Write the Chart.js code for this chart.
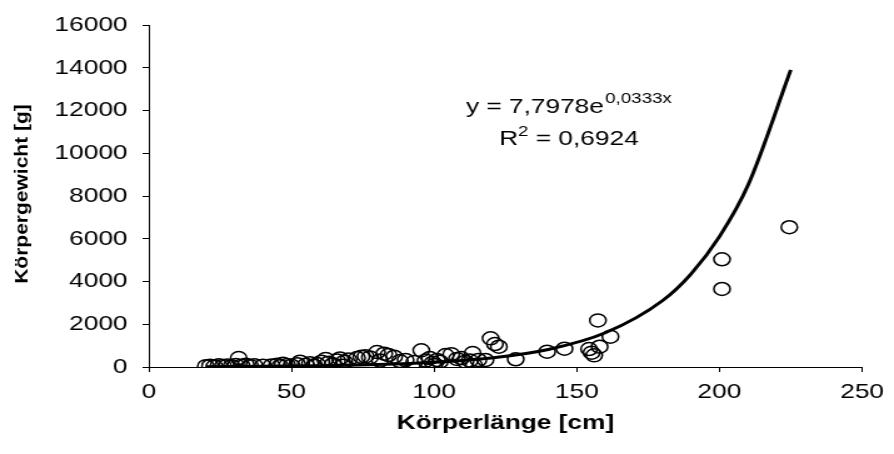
<!DOCTYPE html>
<html>
<head>
<meta charset="utf-8">
<title>Körperlänge / Körpergewicht</title>
<script src="https://cdn.jsdelivr.net/npm/chart.js@4.4.1/dist/chart.umd.min.js"></script>
<style>
    html, body { margin: 0; padding: 0; background: #fff; }
</style>
</head>
<body>
<!-- the original figure is stretched sideways, so the canvas is drawn
     narrower and widened by CSS to get the same look -->
<canvas id="chart" width="715" height="454" style="display:block;width:894px;height:454px"></canvas>
<script>
// Body length (cm) of each animal
const lengthCm = [
    20, 21.5, 23, 24.5, 26, 27.5, 29, 30.5, 31.5, 32.5,
    34, 35.5, 37, 40, 43, 45, 46, 47, 48.5, 50,
    52, 53, 55, 56.5, 58, 59, 60.5, 62, 63, 64.5,
    66, 67, 68, 68.5, 70, 73, 74.5, 76, 77.5, 80,
    81, 82.5, 84, 86, 88, 90, 93, 95.5, 97, 98.5,
    99.5, 100, 101, 102, 104, 106, 108, 109.5, 111, 112.5,
    113.5, 114, 115.5, 118, 119.8, 121.3, 122.7, 128.6, 139.6, 145.7,
    154.3, 155.2, 156.1, 157.4, 158, 161.8, 200.9, 200.9, 224.5
];

// Body weight (g) of each animal, same order as lengthCm
const weightG = [
    40, 60, 30, 80, 50, 70, 40, 90, 420, 60,
    110, 50, 80, 60, 70, 110, 40, 150, 90, 60,
    130, 250, 100, 180, 60, 140, 250, 380, 200, 130,
    300, 400, 60, 250, 350, 420, 480, 500, 450, 700,
    300, 620, 560, 480, 280, 330, 230, 780, 300, 420,
    200, 90, 330, 250, 560, 600, 380, 420, 250, 300,
    650, 90, 330, 330, 1340, 1075, 950, 360, 715, 855,
    840, 670, 545, 2180, 950, 1420, 5040, 3650, 6540
];

// Exponential trend line, sampled off the drawn curve
const trendLengthCm = [20, 40, 60, 80, 100, 120, 140, 160, 180, 190, 200, 210, 225];
const trendWeightG = [15, 30, 58, 112, 218, 420, 820, 1600, 3100, 4350, 6100, 8500, 13900];

// Axis ticks
const xTicks = [0, 50, 100, 150, 200, 250];
const yTicks = [0, 2000, 4000, 6000, 8000, 10000, 12000, 14000, 16000];

// Trend line label
const equationText = ['y = 7,7978e', '0,0333x'];
const rSquaredText = ['R', '2', ' = 0,6924'];

const FONT = '"Liberation Sans", Arial, sans-serif';

// Draws the equation box and the rotated y axis title
const annotations = {
    id: 'annotations',
    afterDraw(chart) {
        const ctx = chart.ctx;
        const centerX = 455;
        ctx.save();
        ctx.fillStyle = '#000';
        ctx.textBaseline = 'alphabetic';
        ctx.textAlign = 'left';

        // y = 7,7978e^0,0333x
        ctx.font = `21px ${FONT}`;
        const mainW = ctx.measureText(equationText[0]).width;
        ctx.font = `15px ${FONT}`;
        const supW = ctx.measureText(equationText[1]).width;
        let x = centerX - (mainW + 1 + supW) / 2;
        ctx.font = `21px ${FONT}`;
        ctx.fillText(equationText[0], x, 113);
        ctx.font = `15px ${FONT}`;
        ctx.fillText(equationText[1], x + mainW + 1, 103);

        // R^2 = 0,6924
        ctx.font = `21px ${FONT}`;
        const rW = ctx.measureText(rSquaredText[0]).width;
        const restW = ctx.measureText(rSquaredText[2]).width;
        ctx.font = `15px ${FONT}`;
        const twoW = ctx.measureText(rSquaredText[1]).width;
        x = centerX - (rW + twoW + restW) / 2;
        ctx.font = `21px ${FONT}`;
        ctx.fillText(rSquaredText[0], x, 145);
        ctx.font = `15px ${FONT}`;
        ctx.fillText(rSquaredText[1], x + rW, 136);
        ctx.font = `21px ${FONT}`;
        ctx.fillText(rSquaredText[2], x + rW + twoW, 145);

        // y axis title, a bit narrower than the regular bold font
        ctx.translate(18, 194);
        ctx.rotate(-Math.PI / 2);
        ctx.scale(1, 0.72);
        ctx.font = `bold 21px ${FONT}`;
        ctx.textAlign = 'center';
        ctx.textBaseline = 'middle';
        ctx.fillText('Körpergewicht [g]', 0, 0);
        ctx.restore();
    }
};

const scatterPoints = lengthCm.map((v, i) => ({ x: v, y: weightG[i] }));
const trendPoints = trendLengthCm.map((v, i) => ({ x: v, y: trendWeightG[i] }));

const ctx = document.getElementById('chart').getContext('2d');
new Chart(ctx, {
    type: 'scatter',
    data: {
        datasets: [
            {
                label: 'Trend',
                data: trendPoints,
                showLine: true,
                borderColor: '#000',
                borderWidth: 3,
                pointRadius: 0,
                cubicInterpolationMode: 'monotone',
                fill: false,
                order: 0
            },
            {
                label: 'Körpergewicht',
                data: scatterPoints,
                pointStyle: 'circle',
                pointRadius: 6.5,
                pointBorderWidth: 1.5,
                pointBorderColor: '#000',
                pointBackgroundColor: 'rgba(0,0,0,0)',
                order: 1
            }
        ]
    },
    options: {
        responsive: false,
        devicePixelRatio: 1,
        animation: false,
        layout: { padding: { top: 25, right: 20, left: 0, bottom: 0 } },
        plugins: {
            legend: { display: false },
            tooltip: { enabled: false }
        },
        scales: {
            x: {
                type: 'linear',
                min: 0,
                max: 250,
                afterBuildTicks: scale => { scale.ticks = xTicks.map(v => ({ value: v })); },
                afterFit: scale => { scale.height = 87; },
                grid: { drawOnChartArea: false, drawTicks: true, tickLength: 5, color: '#000' },
                border: { color: '#000', width: 1 },
                ticks: {
                    color: '#000',
                    padding: 8,
                    maxRotation: 0,
                    autoSkip: false,
                    callback: v => String(v),
                    font: { family: FONT, size: 21 }
                },
                title: {
                    display: true,
                    text: 'Körperlänge [cm]',
                    color: '#000',
                    font: { family: FONT, size: 21, weight: 'bold' },
                    padding: { top: 0, bottom: 18 }
                }
            },
            y: {
                type: 'linear',
                min: 0,
                max: 16000,
                afterBuildTicks: scale => { scale.ticks = yTicks.map(v => ({ value: v })); },
                afterFit: scale => { scale.width = 119; },
                grid: { drawOnChartArea: false, drawTicks: true, tickLength: 5, color: '#000' },
                border: { color: '#000', width: 1 },
                ticks: {
                    color: '#000',
                    padding: 12,
                    autoSkip: false,
                    callback: v => String(v),
                    font: { family: FONT, size: 21 }
                }
            }
        }
    },
    plugins: [annotations]
});
</script>
</body>
</html>
